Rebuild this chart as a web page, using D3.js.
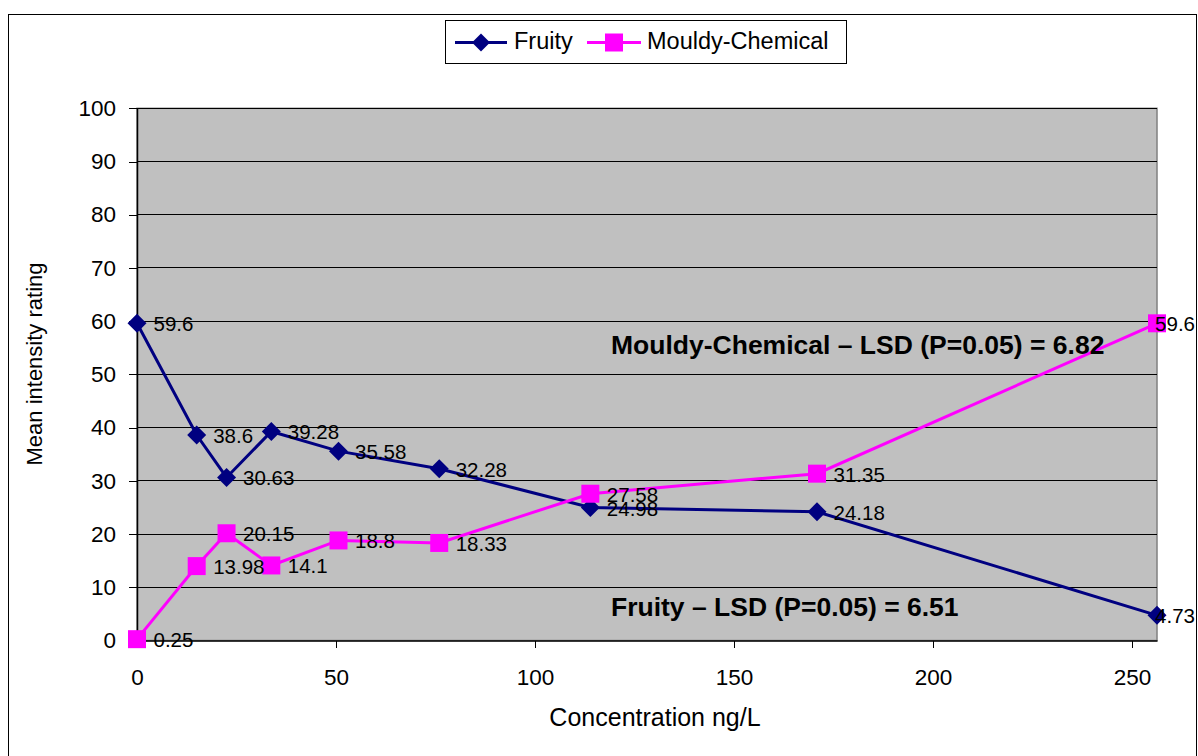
<!DOCTYPE html>
<html>
<head>
<meta charset="utf-8">
<script src="https://cdn.jsdelivr.net/npm/d3@7"></script>
<style>
  html, body { margin: 0; padding: 0; background: #fff; }
  svg { display: block; font-family: "Liberation Sans", Arial, sans-serif; }
</style>
</head>
<body>
<svg id="chart" width="1198" height="756"></svg>
<script>
// Concentrations (ng/L) of the spiked samples
const concentration = [0, 15, 22.5, 33.75, 50.63, 75.94, 113.91, 170.86, 256.29];
// Mean intensity ratings per attribute
const fruity = [59.6, 38.6, 30.63, 39.28, 35.58, 32.28, 24.98, 24.18, 4.73];
const mouldy = [0.25, 13.98, 20.15, 14.1, 18.8, 18.33, 27.58, 31.35, 59.6];
const seriesNames = ["Fruity", "Mouldy-Chemical"];
const yTicks = [0, 10, 20, 30, 40, 50, 60, 70, 80, 90, 100];
const xTicks = [0, 50, 100, 150, 200, 250];
const lsdNotes = ["Mouldy-Chemical \u2013 LSD (P=0.05) = 6.82", "Fruity \u2013 LSD (P=0.05) = 6.51"];

const navy = "#000080", magenta = "#FF00FF";
const svg = d3.select("#chart");

const plot = { left: 137, right: 1157, top: 108.3, bottom: 640.5 };
const chartRight = 1195; // inner edge of the outer frame
const x = d3.scaleLinear().domain([0, 256.29]).range([plot.left, plot.right]);
const y = d3.scaleLinear().domain([0, 100]).range([plot.bottom, plot.top]);

// outer chart frame
svg.append("rect").attr("x", 8.5).attr("y", 14.5).attr("width", 1188).attr("height", 760)
  .attr("fill", "#fff").attr("stroke", "#000").attr("stroke-width", 1);

// plot area
svg.append("rect").attr("x", plot.left).attr("y", plot.top)
  .attr("width", plot.right - plot.left).attr("height", plot.bottom - plot.top)
  .attr("fill", "#C0C0C0").attr("stroke", "#808080").attr("stroke-width", 1.5);

// horizontal gridlines
svg.append("g").selectAll("line").data(yTicks.filter(d => d > 0)).join("line")
  .attr("x1", plot.left).attr("x2", plot.right)
  .attr("y1", d => y(d)).attr("y2", d => y(d))
  .attr("stroke", "#000").attr("stroke-width", 1).attr("shape-rendering", "crispEdges");

// axes
const yAxis = svg.append("g").attr("transform", `translate(${plot.left},0)`)
  .call(d3.axisLeft(y).tickValues(yTicks).tickSize(8).tickPadding(13).tickSizeOuter(0));
const xAxis = svg.append("g").attr("transform", `translate(0,${plot.bottom})`)
  .call(d3.axisBottom(x).tickValues(xTicks).tickSize(7).tickPadding(22).tickSizeOuter(0));
[yAxis, xAxis].forEach(a => {
  a.select(".domain").attr("stroke", "#000").attr("stroke-width", 1.5);
  a.selectAll(".tick line").attr("stroke", "#000").attr("stroke-width", 1).attr("shape-rendering", "crispEdges");
  a.selectAll(".tick text").attr("fill", "#000").attr("font-size", 22.5)
    .attr("font-family", "'Liberation Sans', Arial, sans-serif");
});

// marker symbols
const diamond = (s) => `M0,${-s}L${s},0L0,${s}L${-s},0Z`;
const square = (s) => `M${-s},${-s}H${s}V${s}H${-s}Z`;

const pts = (vals) => concentration.map((c, i) => [c, vals[i]]);
const line = d3.line().x(d => x(d[0])).y(d => y(d[1]));

function drawSeries(vals, color, shape) {
  const g = svg.append("g");
  g.append("path").attr("d", line(pts(vals))).attr("fill", "none")
    .attr("stroke", color).attr("stroke-width", 3).attr("stroke-linejoin", "miter");
  g.selectAll("path.m").data(pts(vals)).join("path").attr("class", "m")
    .attr("transform", d => `translate(${x(d[0])},${y(d[1])})`)
    .attr("d", shape).attr("fill", color);
}
drawSeries(fruity, navy, diamond(9.5));
drawSeries(mouldy, magenta, square(9));

// data labels, pulled back inside the frame where they would run past it
function drawLabels(vals) {
  svg.append("g").selectAll("text").data(pts(vals)).join("text")
    .attr("y", d => y(d[1]) + 8)
    .attr("font-size", 20.5).attr("fill", "#000").text(d => d[1])
    .each(function(d) {
      const w = this.getComputedTextLength();
      const x0 = Math.min(x(d[0]) + 16.5, chartRight - w);
      d3.select(this).attr("x", x0);
    });
}
drawLabels(fruity);
drawLabels(mouldy);

// LSD annotations
svg.append("text").attr("x", 611).attr("y", 354).attr("font-size", 26.5).attr("font-weight", "bold")
  .text(lsdNotes[0]);
svg.append("text").attr("x", 611).attr("y", 616).attr("font-size", 26.5).attr("font-weight", "bold")
  .text(lsdNotes[1]);

// axis titles
svg.append("text").attr("transform", "translate(42,364) rotate(-90)").attr("text-anchor", "middle")
  .attr("font-size", 22).text("Mean intensity rating");
svg.append("text").attr("x", 655).attr("y", 726).attr("text-anchor", "middle")
  .attr("font-size", 25).text("Concentration ng/L");

// legend
const lg = svg.append("g");
lg.append("rect").attr("x", 445.5).attr("y", 20.5).attr("width", 401).attr("height", 43)
  .attr("fill", "#fff").attr("stroke", "#000").attr("stroke-width", 1);
const legendItems = [
  { name: seriesNames[0], color: navy, shape: diamond(9), x0: 455, x1: 507, tx: 514 },
  { name: seriesNames[1], color: magenta, shape: square(9), x0: 587, x1: 641, tx: 647 }
];
legendItems.forEach(it => {
  lg.append("line").attr("x1", it.x0).attr("x2", it.x1).attr("y1", 42.5).attr("y2", 42.5)
    .attr("stroke", it.color).attr("stroke-width", 3);
  lg.append("path").attr("d", it.shape).attr("fill", it.color)
    .attr("transform", `translate(${(it.x0 + it.x1) / 2},42.5)`);
  lg.append("text").attr("x", it.tx).attr("y", 49).attr("font-size", 23.5).text(it.name);
});
</script>
</body>
</html>
